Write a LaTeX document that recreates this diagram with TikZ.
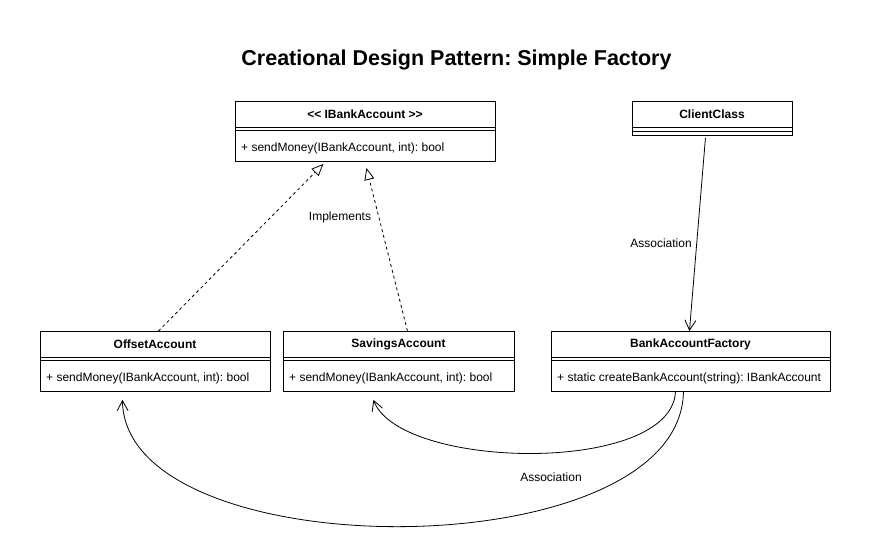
\documentclass[tikz,border=0pt]{standalone}
\usepackage{fontspec}
\setmainfont{Liberation Sans}
\usetikzlibrary{arrows.meta}
\frenchspacing
\begin{document}
\begin{tikzpicture}[x=1pt,y=-1pt,
  box/.style={draw, line width=0.9pt, anchor=north west, inner sep=0pt},
  hdr/.style={font=\fontsize{12}{14}\selectfont\bfseries, inner sep=0pt},
  meth/.style={font=\fontsize{12}{14}\selectfont, anchor=west, inner sep=0pt},
  lbl/.style={font=\fontsize{12}{14}\selectfont, inner sep=1pt, fill=white},
  sep/.style={line width=0.9pt},
  impl/.style={line width=0.8pt, dash pattern=on 3pt off 3pt, -{Triangle[open,length=12pt,width=10pt,fill=white,line width=0.8pt]}},
  assoc/.style={line width=0.8pt, -{Straight Barb[length=10pt,width=11pt,line width=0.8pt]}}
]
\useasboundingbox[fill=white] (0,0) rectangle (870,555);

\node[font=\fontsize{21.5}{26}\selectfont\bfseries] (title) at (456.5,60) {Creational Design Pattern: Simple Factory};

% IBankAccount
\node[box, minimum width=260pt, minimum height=60pt] (ib) at (235,101) {};
\node[hdr] (ibh) at (365,114) {{<}{<} IBankAccount {>}{>}};
\draw[sep] ([yshift=-26pt]ib.north west) -- ([yshift=-26pt]ib.north east);
\draw[sep] ([yshift=-29.5pt]ib.north west) -- ([yshift=-29.5pt]ib.north east);
\node[meth] (ibm) at (241,148) {+ sendMoney(IBankAccount, int): bool};

% ClientClass
\node[box, minimum width=160pt, minimum height=34pt] (cc) at (632,101) {};
\node[hdr] (cch) at (712,114) {ClientClass};
\draw[sep] ([yshift=-26pt]cc.north west) -- ([yshift=-26pt]cc.north east);
\draw[sep] ([yshift=-30pt]cc.north west) -- ([yshift=-30pt]cc.north east);

% OffsetAccount
\node[box, minimum width=230pt, minimum height=60pt] (oa) at (40,331) {};
\node[hdr] (oah) at (155,344) {OffsetAccount};
\draw[sep] ([yshift=-26pt]oa.north west) -- ([yshift=-26pt]oa.north east);
\draw[sep] ([yshift=-29.5pt]oa.north west) -- ([yshift=-29.5pt]oa.north east);
\node[meth] (oam) at (46,378) {+ sendMoney(IBankAccount, int): bool};

% SavingsAccount
\node[box, minimum width=231pt, minimum height=60pt] (sa) at (283,331) {};
\node[hdr] (sah) at (398.5,344) {SavingsAccount};
\draw[sep] ([yshift=-26pt]sa.north west) -- ([yshift=-26pt]sa.north east);
\draw[sep] ([yshift=-29.5pt]sa.north west) -- ([yshift=-29.5pt]sa.north east);
\node[meth] (sam) at (289,378) {+ sendMoney(IBankAccount, int): bool};

% BankAccountFactory
\node[box, minimum width=279pt, minimum height=60pt] (bf) at (551,331) {};
\node[hdr] (bfh) at (690.5,344) {BankAccountFactory};
\draw[sep] ([yshift=-26pt]bf.north west) -- ([yshift=-26pt]bf.north east);
\draw[sep] ([yshift=-29.5pt]bf.north west) -- ([yshift=-29.5pt]bf.north east);
\node[meth] (bfm) at (557,378) {+ static createBankAccount(string): IBankAccount};

% Implements
\draw[impl] ([xshift=3pt]oa.north) -- ([xshift=-42pt,yshift=-2pt]ib.south);
\draw[impl] ([xshift=8.5pt]sa.north) -- ([xshift=1pt,yshift=-6pt]ib.south);
\node[lbl] (implbl) at (340,217) {Implements};

% Association client -> factory
\draw[assoc] ([xshift=-7pt,yshift=-2pt]cc.south) -- ([xshift=-1.5pt]bf.north);
\node[lbl] (asslbl1) at (661,243) {Association};

% curved associations
\draw[assoc] ([xshift=-15.5pt]bf.south) .. controls (671,475) and (400,470) .. ([xshift=-25.5pt,yshift=-8pt]sa.south);
\draw[assoc] ([xshift=-7.5pt]bf.south) .. controls (680,570) and (125,570) .. ([xshift=-33pt,yshift=-8pt]oa.south);
\node[lbl] (asslbl2) at (551,477) {Association};
\end{tikzpicture}
\end{document}
